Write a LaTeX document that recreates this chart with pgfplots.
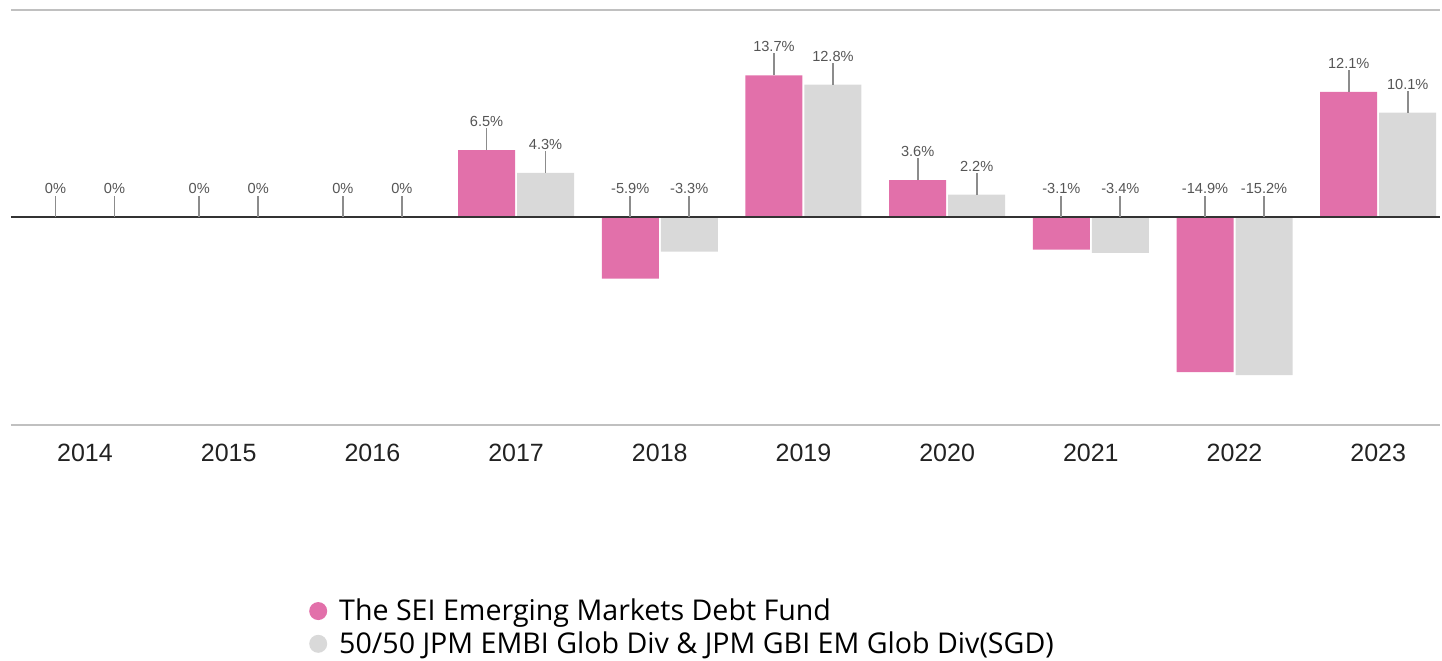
\documentclass[border=0pt]{standalone}
\usepackage{pgfplots}
\pgfplotsset{compat=1.18}
\usepackage{pgfplotstable}
\usepackage{fontspec}
\setmainfont{Liberation Sans}
\newfontfamily\legfont{Open Sans}
\definecolor{seipink}{HTML}{E270AA}
\definecolor{bargray}{HTML}{D9D9D9}
\definecolor{linegray}{HTML}{C0C0C0}
\definecolor{zeroline}{HTML}{333333}
\definecolor{leader}{HTML}{8C8C8C}
\definecolor{labelgray}{HTML}{555555}
\definecolor{ticktext}{HTML}{222222}

\pgfplotstableread{
x a b abase bbase
0 0 0 0 0
1 0 0 0 0
2 0 0 0 0
3 6.5 4.3 6.5 4.3
4 -5.9 -3.3 0 0
5 13.7 12.8 13.7 12.8
6 3.6 2.2 3.6 2.2
7 -3.1 -3.4 0 0
8 -14.9 -15.2 0 0
9 12.1 10.1 12.1 10.1
}\data

\pgfplotstableread{
x y
-0.515 0
9.43 0
}\zerodata

\pgfplotsset{
  valuelabels/.style={
    draw=none, fill=none, forget plot,
    point meta=explicit,
    nodes near coords={\pgfmathprintnumber[fixed, precision=1, assume math mode=true]{\pgfplotspointmeta}\%},
    nodes near coords style={
      anchor=south, yshift=11pt, inner sep=0.5pt,
      font=\fontsize{7.3}{8.5}\selectfont, text=labelgray},
    error bars/y dir=plus,
    error bars/y fixed=2.12,
    error bars/error mark=none,
    error bars/error bar style={draw=leader, line width=0.9pt, solid},
  }
}

\begin{document}
\begin{tikzpicture}
\begin{axis}[
  scale only axis, width=714.5pt, height=207.5pt,
  xmin=-0.515, xmax=9.43, ymin=-20, ymax=20,
  ybar, bar width=28.5pt,
  axis x line=box, axis y line=none,
  x axis line style={draw=linegray, line width=0.8pt},
  xtick={0,...,9},
  xticklabels={2014,2015,2016,2017,2018,2019,2020,2021,2022,2023},
  major tick length=0pt,
  xticklabel style={font=\fontsize{12.5}{15}\selectfont, text=ticktext, yshift=-6pt},
  ytick=\empty,
  legend style={at={(0.2084,-0.408)}, anchor=north west, draw=none, fill=none,
    font=\legfont\fontsize{14.3}{17}\selectfont, row sep=0pt,
    inner sep=0pt},
  legend cell align=left,
]
\addplot[fill=seipink, draw=none, bar shift=-14.75pt,
  legend image code/.code={\fill[seipink] (0.15cm,0pt) circle (4.5pt); \path (0.15cm+8.5pt,0pt);}]
  table[x=x, y=a] {\data};
\addlegendentry{The SEI Emerging Markets Debt Fund}
\addplot[fill=bargray, draw=none, bar shift=14.75pt,
  legend image code/.code={\fill[bargray] (0.15cm,0pt) circle (4.5pt); \path (0.15cm+8.5pt,0pt);}]
  table[x=x, y=b] {\data};
\addlegendentry{50/50 JPM EMBI Glob Div \& JPM GBI EM Glob Div(SGD)}
\addplot[sharp plot, no marks, forget plot, draw=zeroline, line width=1pt]
  table[x=x, y=y] {\zerodata};
\addplot[bar shift=-14.75pt, valuelabels] table[x=x, y=abase, meta=a] {\data};
\addplot[bar shift=14.75pt, valuelabels] table[x=x, y=bbase, meta=b] {\data};
\end{axis}
\path (current axis.south west) ++(-5.5pt,-117.5pt);
\path (current axis.north east) ++(1pt,5pt);
\end{tikzpicture}
\end{document}
